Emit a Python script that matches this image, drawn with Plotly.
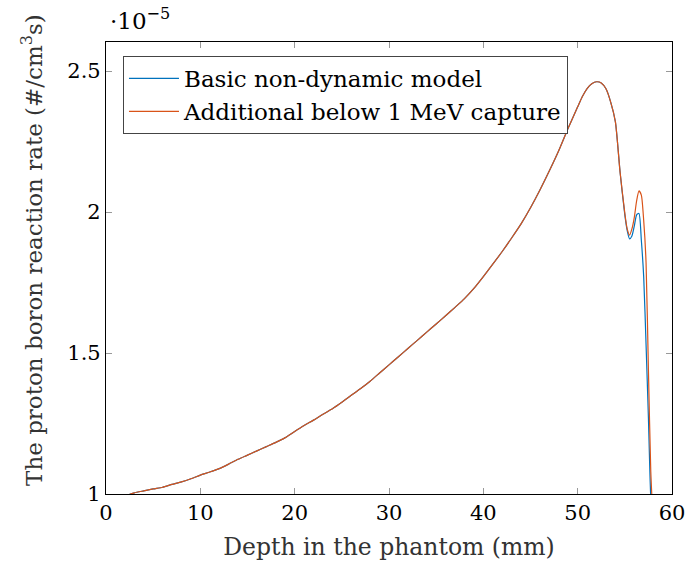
import plotly.graph_objects as go

# Depth (mm)
depth = [2.5, 3, 4, 5, 6, 7, 8, 9, 10, 11, 12, 13, 14, 15, 16, 17, 18, 19, 20,
         21, 22, 23, 24, 25, 26, 27, 28, 29, 30, 31, 32, 33, 34, 35, 36, 37, 38,
         39, 40, 41, 42, 43, 44, 45, 46, 47, 48, 49, 50, 50.5, 51, 51.5, 52,
         52.5, 53, 53.5, 54, 54.5, 55, 55.25, 55.5, 55.75, 56, 56.25, 56.5,
         56.75, 57, 57.25, 57.5, 57.75, 58]

# Reaction rate, in units of 1e-5 #/(cm^3 s)
common = [0.999, 1.004, 1.011, 1.018, 1.024, 1.034, 1.043, 1.054, 1.067, 1.078,
          1.090, 1.106, 1.123, 1.138, 1.153, 1.168, 1.183, 1.200, 1.222, 1.243,
          1.262, 1.283, 1.302, 1.325, 1.350, 1.374, 1.400, 1.429, 1.458, 1.487,
          1.516, 1.545, 1.574, 1.603, 1.632, 1.662, 1.693, 1.729, 1.771, 1.815,
          1.860, 1.908, 1.958, 2.015, 2.078, 2.146, 2.218, 2.298, 2.373, 2.410,
          2.438, 2.455, 2.462, 2.458, 2.437, 2.390, 2.320, 2.140]
basic_tail = [1.990, 1.935, 1.905, 1.915, 1.950, 1.990, 1.995, 1.900, 1.770,
              1.530, 1.270, 0.990, 0.900]
extra_tail = [1.995, 1.940, 1.918, 1.940, 1.980, 2.040, 2.075, 2.060, 1.970,
              1.820, 1.440, 1.080, 0.900]

basic = common + basic_tail
additional = common + extra_tail

series_names = ["Basic non-dynamic model", "Additional below 1 MeV capture"]
series_colors = ["#0072BD", "#D95319"]

x_ticks = [0, 10, 20, 30, 40, 50, 60]
y_ticks = [1, 1.5, 2, 2.5]
y_tick_labels = ["1", "1.5", "2", "2.5"]

FONT = "DejaVu Serif"

fig = go.Figure()
for name, ys, col in zip(series_names, [basic, additional], series_colors):
    fig.add_trace(go.Scatter(x=depth, y=ys, mode="lines", name=name,
                             line=dict(color=col, width=1.2, shape="spline", smoothing=0.6)))

axis_common = dict(showline=True, linecolor="black", linewidth=1.2, mirror="allticks",
                   ticks="inside", ticklen=6, tickcolor="#999999", tickwidth=1.2,
                   showgrid=False, zeroline=False, automargin=False,
                   tickfont=dict(family=FONT, size=21, color="black"))

fig.update_layout(
    width=687, height=568,
    margin=dict(l=106, r=15, t=42, b=74),
    plot_bgcolor="white", paper_bgcolor="white",
    font=dict(family=FONT, size=21, color="black"),
    xaxis=dict(range=[0, 60], tickvals=x_ticks,
               title=dict(text="Depth in the phantom (mm)", font=dict(family=FONT, size=23.5, color="#333333"), standoff=14),
               **axis_common),
    yaxis=dict(range=[1, 2.603], tickvals=y_ticks, ticktext=y_tick_labels,
               **axis_common),
    legend=dict(x=0.03, y=0.969, xanchor="left", yanchor="top",
                bgcolor="white", bordercolor="#444444", borderwidth=1,
                font=dict(family=FONT, size=23, color="black"),
                tracegroupgap=0, itemwidth=50),
    showlegend=True,
)

# y-axis title (placed as rotated text so it can sit where the reference has it)
fig.add_annotation(xref="paper", yref="paper", x=-0.1307, y=0.54, xanchor="center", yanchor="middle",
                   showarrow=False, textangle=-90,
                   text="The proton boron reaction rate (#/cm<sup>3</sup>s)",
                   font=dict(family=FONT, size=23, color="#333333"))

fig.add_annotation(xref="paper", yref="paper", x=0.0, y=1.0, xanchor="left", yanchor="bottom",
                   xshift=2, yshift=6, showarrow=False,
                   text="·10<sup>−5</sup>", font=dict(family=FONT, size=23, color="black"))

fig.write_html("out.html")
